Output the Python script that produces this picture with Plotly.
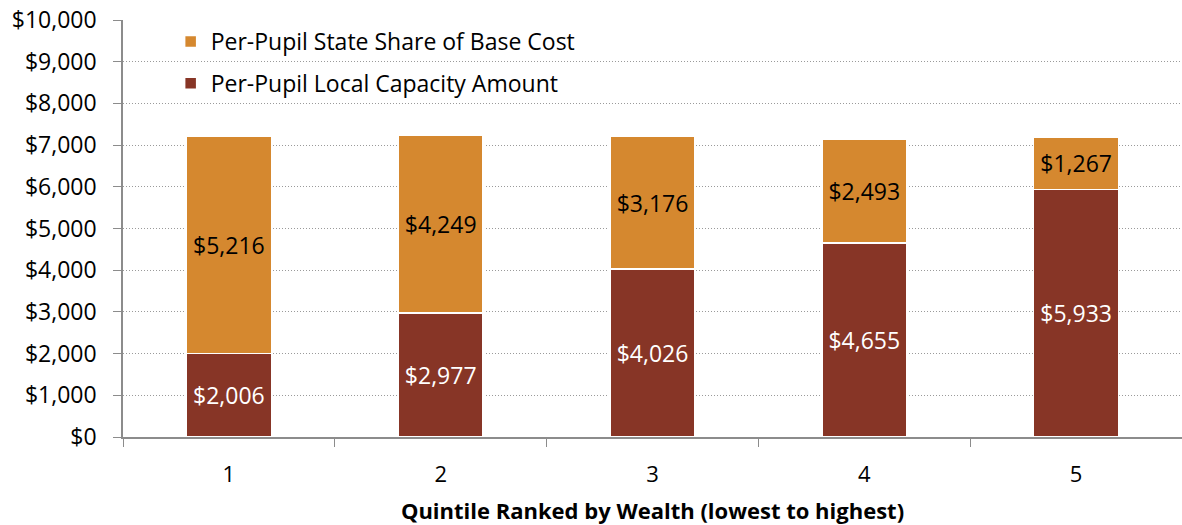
import plotly.graph_objects as go

categories = ["1", "2", "3", "4", "5"]
local_capacity = [2006, 2977, 4026, 4655, 5933]
state_share = [5216, 4249, 3176, 2493, 1267]
y_ticks = [0, 1000, 2000, 3000, 4000, 5000, 6000, 7000, 8000, 9000, 10000]
y_tick_labels = ["$" + format(v, ",") for v in y_ticks]

FONT = "Open Sans, sans-serif"

fig = go.Figure()
fig.add_trace(go.Bar(
    x=categories, y=local_capacity, name="Per-Pupil Local Capacity Amount",
    legendgroup="local", legendrank=2,
    marker=dict(color="#873526", line=dict(color="white", width=1.5)),
    texttemplate="$%{y:,}", textposition="inside", insidetextanchor="middle",
    textfont=dict(color="white", size=23, family=FONT),
))
fig.add_trace(go.Bar(
    x=categories, y=state_share, name="Per-Pupil State Share of Base Cost",
    legendgroup="state", legendrank=1,
    marker=dict(color="#D5882F", line=dict(color="white", width=1.5)),
    texttemplate="$%{y:,}", textposition="inside", insidetextanchor="middle",
    textfont=dict(color="black", size=23, family=FONT),
))

fig.update_layout(
    barmode="stack", bargap=0.6,
    width=1182, height=525,
    margin=dict(l=123, r=0, t=20, b=88),
    paper_bgcolor="white", plot_bgcolor="white",
    font=dict(family=FONT, size=18, color="black"),
    showlegend=True,
    legend=dict(x=0.045, y=1.0, xanchor="left", yanchor="top", traceorder="grouped",
                font=dict(size=23, family=FONT), bgcolor="rgba(0,0,0,0)",
                tracegroupgap=9),
    uniformtext=dict(mode=False),
)
fig.update_xaxes(
    title=dict(text="<b>Quintile Ranked by Wealth (lowest to highest)</b>",
               font=dict(size=22, family=FONT), standoff=18),
    showline=True, linecolor="#8c8c8c", linewidth=1.5,
    ticks="outside", tickson="boundaries", ticklen=8, tickcolor="#8c8c8c",
    tickfont=dict(size=22), ticklabelstandoff=17,
    showgrid=False, automargin=False,
)
fig.update_yaxes(
    range=[0, 10000], tickmode="array", tickvals=y_ticks, ticktext=y_tick_labels,
    showline=True, linecolor="#8c8c8c", linewidth=1.5,
    ticks="outside", ticklen=8, tickcolor="#8c8c8c",
    showgrid=True, gridcolor="#9a9a9a", griddash="1px,2px", gridwidth=1,
    tickfont=dict(size=23), ticklabelstandoff=12, ticklabeloverflow="allow",
    zeroline=False, automargin=False,
)

fig.write_html("out.html", config={"displayModeBar": False},
               post_script="document.body.style.margin='0px';")
